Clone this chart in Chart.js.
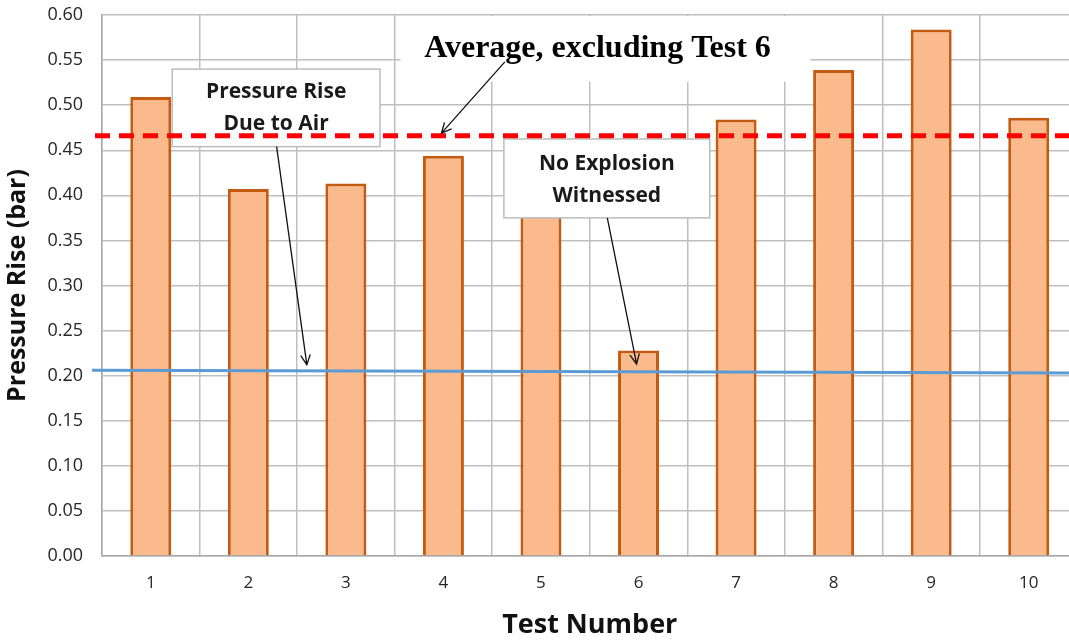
<!DOCTYPE html>
<html>
<head>
<meta charset="utf-8">
<script src="https://cdn.jsdelivr.net/npm/chart.js@4.4.0/dist/chart.umd.min.js"></script>
<style>
  html, body { margin: 0; padding: 0; background: #fff; overflow: hidden; }
  #wrap { position: absolute; left: 0; top: 0; width: 1080px; height: 643px; }
</style>
</head>
<body>
<div id="wrap"><canvas id="chart" width="1080" height="643"></canvas></div>
<script>
// data
const testNumbers = ['1', '2', '3', '4', '5', '6', '7', '8', '9', '10'];
const pressureRise = [0.509, 0.407, 0.413, 0.444, 0.395, 0.228, 0.484, 0.539, 0.584, 0.486];
const yTicks = [0.00, 0.05, 0.10, 0.15, 0.20, 0.25, 0.30, 0.35, 0.40, 0.45, 0.50, 0.55, 0.60];
const avgExcl6 = 0.466;          // red dashed line
const airRise = [0.206, 0.203];  // blue line, left end / right end

// annotations in data coords (x = category index, y = bar value)
const notes = {
    title: { text: 'Average, excluding Test 6', x: 4.58, y: 0.563, bg: [2.56, 6.76, 0.60, 0.526],
             arrow: [3.63, 0.548, 2.98, 0.469] },
    air: { lines: ['Pressure Rise', 'Due to Air'], box: [0.22, 2.35, 0.540, 0.454], ys: [0.5146, 0.479],
           arrow: [1.29, 0.454, 1.60, 0.212] },
    noExp: { lines: ['No Explosion', 'Witnessed'], box: [3.62, 5.73, 0.4625, 0.375], ys: [0.435, 0.399],
             arrow: [4.68, 0.375, 4.98, 0.213] }
};

const calibri = '"Open Sans", Lato, sans-serif';

function drawArrow(ctx, x1, y1, x2, y2) {
    const ang = Math.atan2(y2 - y1, x2 - x1);
    const len = 11;
    ctx.save();
    ctx.strokeStyle = '#111';
    ctx.lineWidth = 1.3;
    ctx.beginPath();
    ctx.moveTo(x1, y1);
    ctx.lineTo(x2, y2);
    ctx.moveTo(x2 - len * Math.cos(ang - 0.45), y2 - len * Math.sin(ang - 0.45));
    ctx.lineTo(x2, y2);
    ctx.lineTo(x2 - len * Math.cos(ang + 0.45), y2 - len * Math.sin(ang + 0.45));
    ctx.stroke();
    ctx.restore();
}

function drawBox(ctx, xs, ys, note) {
    const b = note.box;
    const l = xs.getPixelForValue(b[0]), r = xs.getPixelForValue(b[1]);
    const t = ys.getPixelForValue(b[2]), bt = ys.getPixelForValue(b[3]);
    ctx.save();
    ctx.fillStyle = '#fff';
    ctx.fillRect(l, t, r - l, bt - t);
    ctx.strokeStyle = '#bcbcbc';
    ctx.lineWidth = 1.5;
    ctx.strokeRect(l, t, r - l, bt - t);
    ctx.fillStyle = '#1a1a1a';
    ctx.font = 'bold 21px ' + calibri;
    ctx.textAlign = 'center';
    ctx.textBaseline = 'middle';
    note.lines.forEach((s, i) => ctx.fillText(s, (l + r) / 2, ys.getPixelForValue(note.ys[i])));
    ctx.restore();
}

const annotPlugin = {
    id: 'annot',
    beforeDatasetsDraw(chart) {
        const ctx = chart.ctx, xs = chart.scales.x, ys = chart.scales.y;
        const bg = notes.title.bg;
        const l = xs.getPixelForValue(bg[0]), r = xs.getPixelForValue(bg[1]);
        const t = ys.getPixelForValue(bg[2]) + 1, b = ys.getPixelForValue(bg[3]);
        ctx.save();
        ctx.fillStyle = '#fff';
        ctx.fillRect(l, t, r - l, b - t);
        ctx.restore();
    },
    afterDatasetsDraw(chart) {
        const ctx = chart.ctx, xs = chart.scales.x, ys = chart.scales.y, area = chart.chartArea;

        drawBox(ctx, xs, ys, notes.noExp);

        // blue line - pressure rise due to air
        ctx.save();
        ctx.strokeStyle = '#5B9BD5';
        ctx.lineWidth = 3;
        ctx.beginPath();
        ctx.moveTo(area.left - 10, ys.getPixelForValue(airRise[0]));
        ctx.lineTo(area.right, ys.getPixelForValue(airRise[1]));
        ctx.stroke();
        ctx.restore();

        drawBox(ctx, xs, ys, notes.air);

        // red dashed average line
        const ya = ys.getPixelForValue(avgExcl6);
        ctx.save();
        ctx.strokeStyle = '#FF0000';
        ctx.lineWidth = 5;
        ctx.setLineDash([15, 9]);
        ctx.beginPath();
        ctx.moveTo(area.left - 7, ya);
        ctx.lineTo(area.right, ya);
        ctx.stroke();
        ctx.restore();

        [notes.air, notes.noExp, notes.title].forEach(n => {
            const a = n.arrow;
            drawArrow(ctx, xs.getPixelForValue(a[0]), ys.getPixelForValue(a[1]),
                xs.getPixelForValue(a[2]), ys.getPixelForValue(a[3]));
        });

        ctx.save();
        ctx.fillStyle = '#000';
        ctx.font = 'bold 32px "Liberation Serif", "Times New Roman", serif';
        ctx.textAlign = 'center';
        ctx.textBaseline = 'middle';
        ctx.fillText(notes.title.text, xs.getPixelForValue(notes.title.x), ys.getPixelForValue(notes.title.y));
        ctx.restore();
    }
};

const ctx = document.getElementById('chart').getContext('2d');
new Chart(ctx, {
    type: 'bar',
    data: {
        labels: testNumbers,
        datasets: [{
            data: pressureRise,
            backgroundColor: '#FBBA8B',
            borderColor: '#C55A11',
            borderWidth: 3,
            barPercentage: 0.42,
            categoryPercentage: 1
        }]
    },
    options: {
        responsive: false,
        animation: false,
        layout: { padding: { top: 15, right: 2.5, left: 0, bottom: 0 } },
        plugins: { legend: { display: false }, tooltip: { enabled: false } },
        scales: {
            x: {
                afterFit: s => { s.height = 87; },
                grid: { color: '#bfbfbf', lineWidth: 1.5, drawTicks: false, offset: true },
                border: { color: '#a8a8a8', width: 1.5 },
                ticks: { color: '#262626', font: { family: calibri, size: 17 }, padding: 17 },
                title: { display: true, text: 'Test Number', color: '#111',
                         font: { family: calibri, size: 27, weight: 'bold' }, padding: { bottom: 1 } }
            },
            y: {
                min: 0, max: 0.6,
                afterFit: s => { s.width = 102; },
                afterBuildTicks: s => { s.ticks = yTicks.map(v => ({ value: v })); },
                grid: { color: '#bfbfbf', lineWidth: 1.5, drawTicks: true, tickLength: 17,
                        tickColor: 'rgba(0,0,0,0)' },
                border: { color: '#a8a8a8', width: 1.5 },
                ticks: { color: '#262626', font: { family: calibri, size: 18 }, padding: 2,
                         callback: v => v.toFixed(2) },
                title: { display: true, text: 'Pressure Rise (bar)', color: '#111',
                         font: { family: calibri, size: 25, weight: 'bold' }, padding: { top: 3 } }
            }
        }
    },
    plugins: [annotPlugin]
});
</script>
</body>
</html>
